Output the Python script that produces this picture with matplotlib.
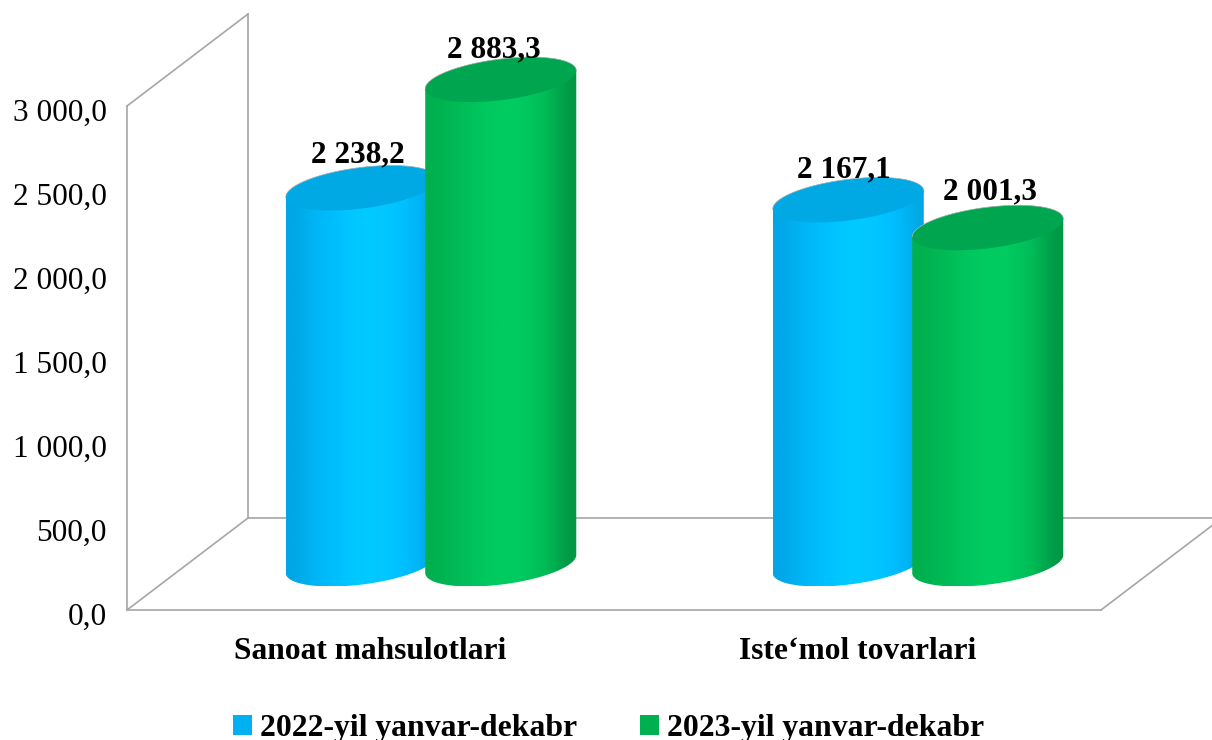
import numpy as np
import matplotlib
matplotlib.use("Agg")
import matplotlib.pyplot as plt
from matplotlib.patches import Patch, PathPatch, Polygon
from matplotlib.path import Path
from matplotlib.colors import to_rgb
from matplotlib.transforms import ScaledTranslation

plt.rcParams['font.family'] = ['Liberation Serif', 'DejaVu Serif']

# data
categories = ["Sanoat mahsulotlari", "Iste\u2018mol tovarlari"]
series_names = ["2022-yil yanvar-dekabr", "2023-yil yanvar-dekabr"]
values_2022 = [2238.2, 2167.1]
values_2023 = [2883.3, 2001.3]
labels_2022 = ["2 238,2", "2 167,1"]
labels_2023 = ["2 883,3", "2 001,3"]
y_ticks = [0, 500, 1000, 1500, 2000, 2500, 3000]
y_tick_labels = ["0,0", "500,0", "1 000,0", "1 500,0", "2 000,0", "2 500,0", "3 000,0"]

# colours
GRID = "#A6A6A6"
blue_bands = ["#00A6E6", "#00AEEE", "#00B6F6", "#00BCFC", "#00C2FF", "#00C8FF", "#00CAFF",
              "#00C8FF", "#00C4FF", "#00BEFF", "#00B4F4", "#00A8E4"]
green_bands = ["#00B04E", "#00B452", "#00BA56", "#00C05A", "#00C65E", "#00CA60", "#00CC60",
               "#00CA60", "#00C45C", "#00BC56", "#00A84E", "#009844"]
blue_top = "#00A9E4"
green_top = "#00A64F"

# chart geometry, in pixels of the picture
W, H = 1212, 740
LEFT, RIGHT, BOTTOM, TOP = 127, 1101, 610, 106
DEPTH_X, DEPTH_Y = 121, 92
PX_X = (RIGHT - LEFT) / 2.0      # pixels per category
PX_Y = (BOTTOM - TOP) / 3000.0   # pixels per value unit

fig = plt.figure(figsize=(W / 100, H / 100), dpi=100, facecolor="white")
ax = fig.add_axes([LEFT / W, 1 - BOTTOM / H, (RIGHT - LEFT) / W, (BOTTOM - TOP) / H])
ax.set_facecolor("none")
for s in ax.spines.values():
    s.set_visible(False)

dx = DEPTH_X / PX_X
dy = DEPTH_Y / PX_Y


def wall_line(xs, ys):
    ax.plot(xs, ys, color=GRID, lw=1.2, clip_on=False, zorder=1, solid_capstyle="projecting")


# back wall and floor
wall_line([-0.5, -0.5], [0, 3000])
wall_line([-0.5, -0.5 + dx], [3000, 3000 + dy])
wall_line([-0.5 + dx, -0.5 + dx], [dy, 3000 + dy])
wall_line([-0.5 + dx, 1.5 + dx], [dy, dy])
wall_line([-0.5, -0.5 + dx], [0, dy])
wall_line([-0.5, 1.5], [0, 0])
wall_line([1.5, 1.5 + dx], [0, dy])


def cylinder(xc, value, bands, top_color, z):
    # footprint circle seen in the chart's oblique projection
    a = 69.2 / PX_X
    bx = 30.25 / PX_X
    by = 22.5 / PX_Y
    t0 = np.arctan2(bx, a)
    half = np.hypot(a, bx)
    y0 = dy / 2
    y1 = value + dy / 2

    t = np.linspace(t0 + np.pi, t0 + 2 * np.pi, 80)
    low_x = xc + a * np.cos(t) + bx * np.sin(t)
    low_y = y0 + by * np.sin(t)
    tt = np.linspace(t0, t0 + np.pi, 80)
    up_x = xc + a * np.cos(tt) + bx * np.sin(tt)
    up_y = y1 + by * np.sin(tt)
    body = np.column_stack([np.r_[low_x, up_x], np.r_[low_y, up_y]])
    patch = PathPatch(Path(np.vstack([body, body[0]]), closed=True), fc="none", ec="none",
                      clip_on=False, zorder=z)
    ax.add_patch(patch)

    colors = np.array([[to_rgb(c) for c in bands]])
    im = ax.imshow(colors, extent=[xc - half, xc + half, y0 - by, y1 + by], aspect="auto",
                   interpolation="bilinear", zorder=z, origin="lower")
    im.set_clip_box(fig.bbox)
    im.set_clip_path(patch)

    t = np.linspace(0, 2 * np.pi, 160)
    ax.add_patch(Polygon(np.column_stack([xc + a * np.cos(t) + bx * np.sin(t), y1 + by * np.sin(t)]),
                         closed=True, fc=top_color, ec="none", clip_on=False, zorder=z + 0.5))
    # faint rim on the far side of the lid
    ax.plot(up_x, up_y, color="#B5B5B5", lw=0.5, clip_on=False, zorder=z + 0.6)


# bar centres sit half way back on the floor
shift = dx / 2
half_gap = 69.75 / PX_X
for i in range(len(categories)):
    cylinder(i + shift - half_gap, values_2022[i], blue_bands, blue_top, 2 + i)
    cylinder(i + shift + half_gap, values_2023[i], green_bands, green_top, 2.7 + i)

# value labels, nudged in pixels like the hand placed originals
nudges_2022 = [(-3.5, 33), (-4.5, 30)]
nudges_2023 = [(-7, 29.6), (2.5, 35.8)]
for i in range(len(categories)):
    for xc, v, txt, nudge in [(i + shift - half_gap, values_2022[i], labels_2022[i], nudges_2022[i]),
                              (i + shift + half_gap, values_2023[i], labels_2023[i], nudges_2023[i])]:
        ax.annotate(txt, (xc, v + dy / 2), xytext=(nudge[0] * 0.72, nudge[1] * 0.72),
                    textcoords="offset points", ha="center", va="center", fontsize=22.5,
                    fontweight="bold", color="black", zorder=10, annotation_clip=False)

ax.set_xlim(-0.5, 1.5)
ax.set_ylim(0, 3000)
ax.set_yticks(y_ticks)
ax.set_yticklabels(y_tick_labels, fontsize=22.5, color="black")
ax.set_xticks(range(len(categories)))
ax.set_xticklabels(categories, fontsize=22.7, fontweight="bold", color="black")
ax.tick_params(axis="y", length=0, pad=14.4)
ax.tick_params(axis="x", length=0, pad=19.5)

# y labels sit a little below their gridline level
down = ScaledTranslation(0, -4 / 100, fig.dpi_scale_trans)
for lab in ax.get_yticklabels():
    lab.set_transform(lab.get_transform() + down)

handles = [Patch(fc="#00B0F0", ec="none", label=series_names[0]),
           Patch(fc="#00B050", ec="none", label=series_names[1])]
fig.legend(handles=handles, loc="center", bbox_to_anchor=(608.5 / W, 1 - 728.5 / H), ncol=2, frameon=False,
           prop={"family": "Liberation Serif", "weight": "bold", "size": 22.9},
           handlelength=0.6, handleheight=0.6, handletextpad=0.25, columnspacing=2.0,
           borderpad=0, borderaxespad=0)

fig.savefig("out.png", dpi=100)
